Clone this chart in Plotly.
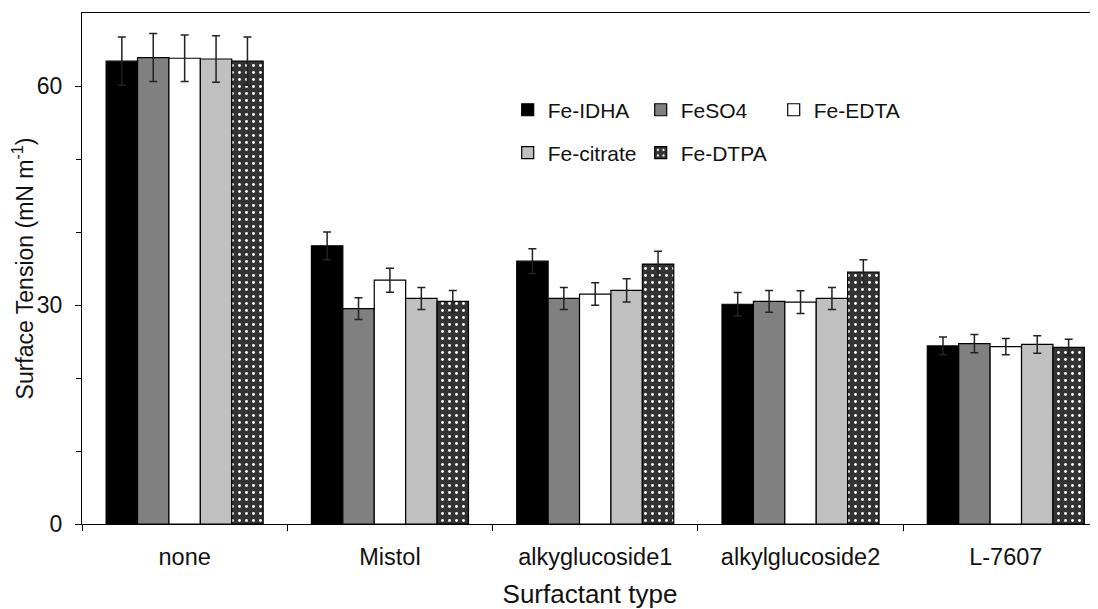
import plotly.graph_objects as go

categories = ["none", "Mistol", "alkyglucoside1", "alkylglucoside2", "L-7607"]
series_names = ["Fe-IDHA", "FeSO4", "Fe-EDTA", "Fe-citrate", "Fe-DTPA"]

fe_idha = [63.4, 38.1, 36.0, 30.1, 24.4]
fe_so4 = [63.9, 29.5, 30.9, 30.5, 24.7]
fe_edta = [63.8, 33.4, 31.5, 30.4, 24.3]
fe_citrate = [63.7, 30.9, 32.0, 30.9, 24.6]
fe_dtpa = [63.4, 30.5, 35.6, 34.5, 24.2]

err_idha = [3.3, 1.9, 1.7, 1.6, 1.2]
err_so4 = [3.3, 1.5, 1.5, 1.5, 1.25]
err_edta = [3.2, 1.65, 1.55, 1.55, 1.1]
err_citrate = [3.2, 1.5, 1.6, 1.5, 1.2]
err_dtpa = [3.3, 1.5, 1.75, 1.7, 1.1]

values = [fe_idha, fe_so4, fe_edta, fe_citrate, fe_dtpa]
errors = [err_idha, err_so4, err_edta, err_citrate, err_dtpa]
colors = ["#000000", "#808080", "#ffffff", "#c0c0c0", "#333333"]
legend_ids = ["legend", "legend", "legend", "legend2", "legend2"]

font_family = "Liberation Sans, Arial, sans-serif"

fig = go.Figure()
for i, name in enumerate(series_names):
    marker = dict(color=colors[i], line=dict(color="#000000", width=1.2))
    if name == "Fe-DTPA":
        marker["pattern"] = dict(shape=".", fgcolor="#ffffff", bgcolor="#333333",
                                 size=7, solidity=0.13, fillmode="replace")
    fig.add_trace(go.Bar(
        x=categories, y=values[i], name=name, marker=marker,
        error_y=dict(type="data", array=errors[i], visible=True,
                     color="#222222", thickness=1.5, width=4),
        legend=legend_ids[i],
    ))

legend_common = dict(orientation="h", xanchor="left", yanchor="middle",
                     entrywidth=88, entrywidthmode="pixels", traceorder="normal",
                     font=dict(size=21), bgcolor="rgba(0,0,0,0)", itemwidth=30)

# page body has an 8px margin; the figure is sized/offset to compensate
fig.update_layout(
    width=1090, height=601,
    margin=dict(l=74, r=0, t=5, b=85, autoexpand=False),
    paper_bgcolor="white", plot_bgcolor="white",
    barmode="group", bargap=0.235, bargroupgap=0,
    font=dict(family=font_family, size=22, color="#111111"),
    showlegend=True,
    legend=dict(x=0.419, y=0.81, **legend_common),
    legend2=dict(x=0.419, y=0.726, **legend_common),
    xaxis=dict(
        range=[-0.5, 4.449], showline=True, linecolor="#000000", linewidth=1,
        mirror=True, ticks="outside", tickson="boundaries", ticklen=6,
        tickcolor="#000000", showgrid=False, zeroline=False, automargin=False,
        ticklabelstandoff=12,
        title=dict(text="Surfactant type", font=dict(size=26), standoff=16),
        tickfont=dict(size=23.5),
    ),
    yaxis=dict(
        range=[0, 70], tickvals=[0, 30, 60], showline=True, linecolor="#000000",
        linewidth=1, ticks="outside", ticklen=6, tickcolor="#000000",
        showgrid=False, zeroline=False, automargin=False,
        ticklabelstandoff=8,
        minor=dict(tickvals=[10, 20, 40, 50], ticks="outside", ticklen=5,
                   tickcolor="#000000", showgrid=False),
        title=dict(text="Surface Tension (mN m<sup>-1</sup>)", font=dict(size=23), standoff=3),
        tickfont=dict(size=23),
    ),
)

fig.write_html("out.html")
